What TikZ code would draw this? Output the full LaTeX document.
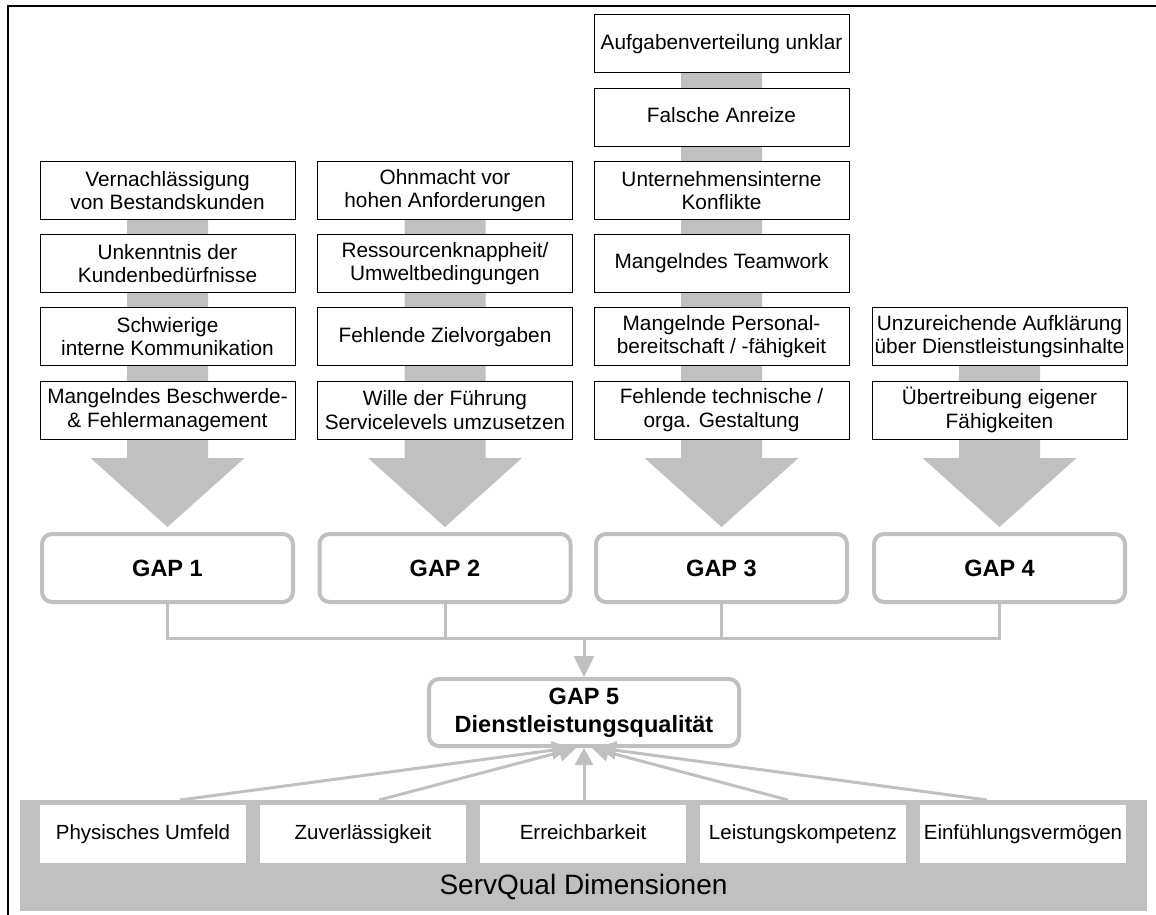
\documentclass[tikz,border=0pt]{standalone}
\usepackage{fontspec}
\setmainfont{Liberation Sans}
\usetikzlibrary{arrows.meta}
\definecolor{barg}{HTML}{C0C0C0}
\begin{document}
\begin{tikzpicture}[x=1pt,y=-1pt,
  cause/.style={draw=black, line width=1pt, fill=white, minimum width=255pt,
    minimum height=58pt, inner sep=0pt, align=center,
    font=\fontsize{20.8}{23.5}\selectfont},
  oneline/.style={text height=15pt, text depth=4.5pt},
  gapbox/.style={draw=barg, line width=4pt, rounded corners=10pt, fill=white,
    minimum width=251pt, minimum height=68pt, inner sep=0pt, align=center,
    font=\bfseries\fontsize{23.5}{28}\selectfont},
  dimbox/.style={fill=white, minimum width=206pt, minimum height=58pt,
    inner sep=0pt, oneline, font=\fontsize{20.5}{23}\selectfont},
  link/.style={draw=barg, line width=3pt},
  tipbig/.style={-{Triangle[length=21pt,width=20pt]}},
  tipfan/.style={-{Triangle[length=17pt,width=18pt]}},
]
\useasboundingbox (0,0) rectangle (1156,915);

% page frame
\draw[line width=1.5pt] (1156,6) -- (8,6) -- (8,915);

% broad grey arrows behind each column of causes
\foreach \cx/\ty in {167.5/190.5, 445/190.5, 721.5/44, 999.5/336.5}
  \fill[barg] (\cx-40.5,\ty) -- (\cx+40.5,\ty) -- (\cx+40.5,458) -- (\cx+77,458)
    -- (\cx,527) -- (\cx-77,458) -- (\cx-40.5,458) -- cycle;

% column 1
\node[cause] (a1) at (167.5,190.5) {Vernachlässigung\\von Bestandskunden};
\node[cause] (a2) at (167.5,263.6) {Unkenntnis der\\Kundenbedürfnisse};
\node[cause] (a3) at (167.5,336.8) {Schwierige\\interne Kommunikation};
\node[cause] (a4) at (167.5,410)   {Mangelndes Beschwerde-\\\& Fehlermanagement};

% column 2
\node[cause] (b1) at (445,190.5) {Ohnmacht vor\\hohen Anforderungen};
\node[cause] (b2) at (445,263.6) {Ressourcenknappheit/\\Umweltbedingungen};
\node[cause,oneline] (b3) at (445,336.8) {Fehlende Zielvorgaben};
\node[cause] (b4) at (445,410)   {Wille der Führung\\Servicelevels umzusetzen};

% column 3
\node[cause,oneline] (c1) at (721.5,44)    {Aufgabenverteilung unklar};
\node[cause,oneline] (c2) at (721.5,117.2) {Falsche Anreize};
\node[cause] (c3) at (721.5,190.5) {Unternehmensinterne\\Konflikte};
\node[cause,oneline] (c4) at (721.5,263.6) {Mangelndes Teamwork};
\node[cause] (c5) at (721.5,336.8) {Mangelnde Personal-\\bereitschaft / -fähigkeit};
\node[cause] (c6) at (721.5,410)   {Fehlende technische /\\orga. Gestaltung};

% column 4
\node[cause] (d1) at (999.5,336.8) {Unzureichende Aufklärung\\über Dienstleistungsinhalte};
\node[cause] (d2) at (999.5,410)   {Übertreibung eigener\\Fähigkeiten};

% gaps
\node[gapbox] (g1) at (167.5,568) {GAP 1};
\node[gapbox] (g2) at (445,568)   {GAP 2};
\node[gapbox] (g3) at (721.5,568) {GAP 3};
\node[gapbox] (g4) at (999.5,568) {GAP 4};
\node[gapbox, minimum width=310pt, minimum height=67pt] (g5) at (584,712.5)
  {GAP 5\\Dienstleistungsqualität};

% collecting line from the four gaps to gap 5
\coordinate (bus) at (584,638);
\draw[link] (g1.south) -- (g1.south |- bus) -- (g4.south |- bus) -- (g4.south);
\draw[link] (g2.south) -- (g2.south |- bus);
\draw[link] (g3.south) -- (g3.south |- bus);
\draw[link,tipbig] (bus) -- (g5.north);

% ServQual dimensions
\node[fill=barg, minimum width=1127pt, minimum height=111pt, inner sep=0pt,
  anchor=north west] (panel) at (20,800) {};
\node[dimbox] (s1) at (143,834)  {Physisches Umfeld};
\node[dimbox] (s2) at (363,834)  {Zuverlässigkeit};
\node[dimbox] (s3) at (583,834)  {Erreichbarkeit};
\node[dimbox] (s4) at (803,834)  {Leistungskompetenz};
\node[dimbox] (s5) at (1023,834) {Einfühlungsvermögen};
\node[font=\fontsize{28}{32}\selectfont, inner sep=0pt] (sq) at (583.5,887)
  {ServQual Dimensionen};

% dimensions feeding gap 5
\coordinate (f1) at (180,800);
\coordinate (f2) at (379,800);
\coordinate (f3) at (584,800);
\coordinate (f4) at (788,800);
\coordinate (f5) at (987,800);
\draw[link,tipfan] (f1) -- ([xshift=-15pt]g5.south);
\draw[link,tipfan] (f2) -- ([xshift=-8pt]g5.south);
\draw[link,tipfan] (f3) -- (g5.south);
\draw[link,tipfan] (f4) -- ([xshift=8pt]g5.south);
\draw[link,tipfan] (f5) -- ([xshift=15pt]g5.south);
\end{tikzpicture}
\end{document}
